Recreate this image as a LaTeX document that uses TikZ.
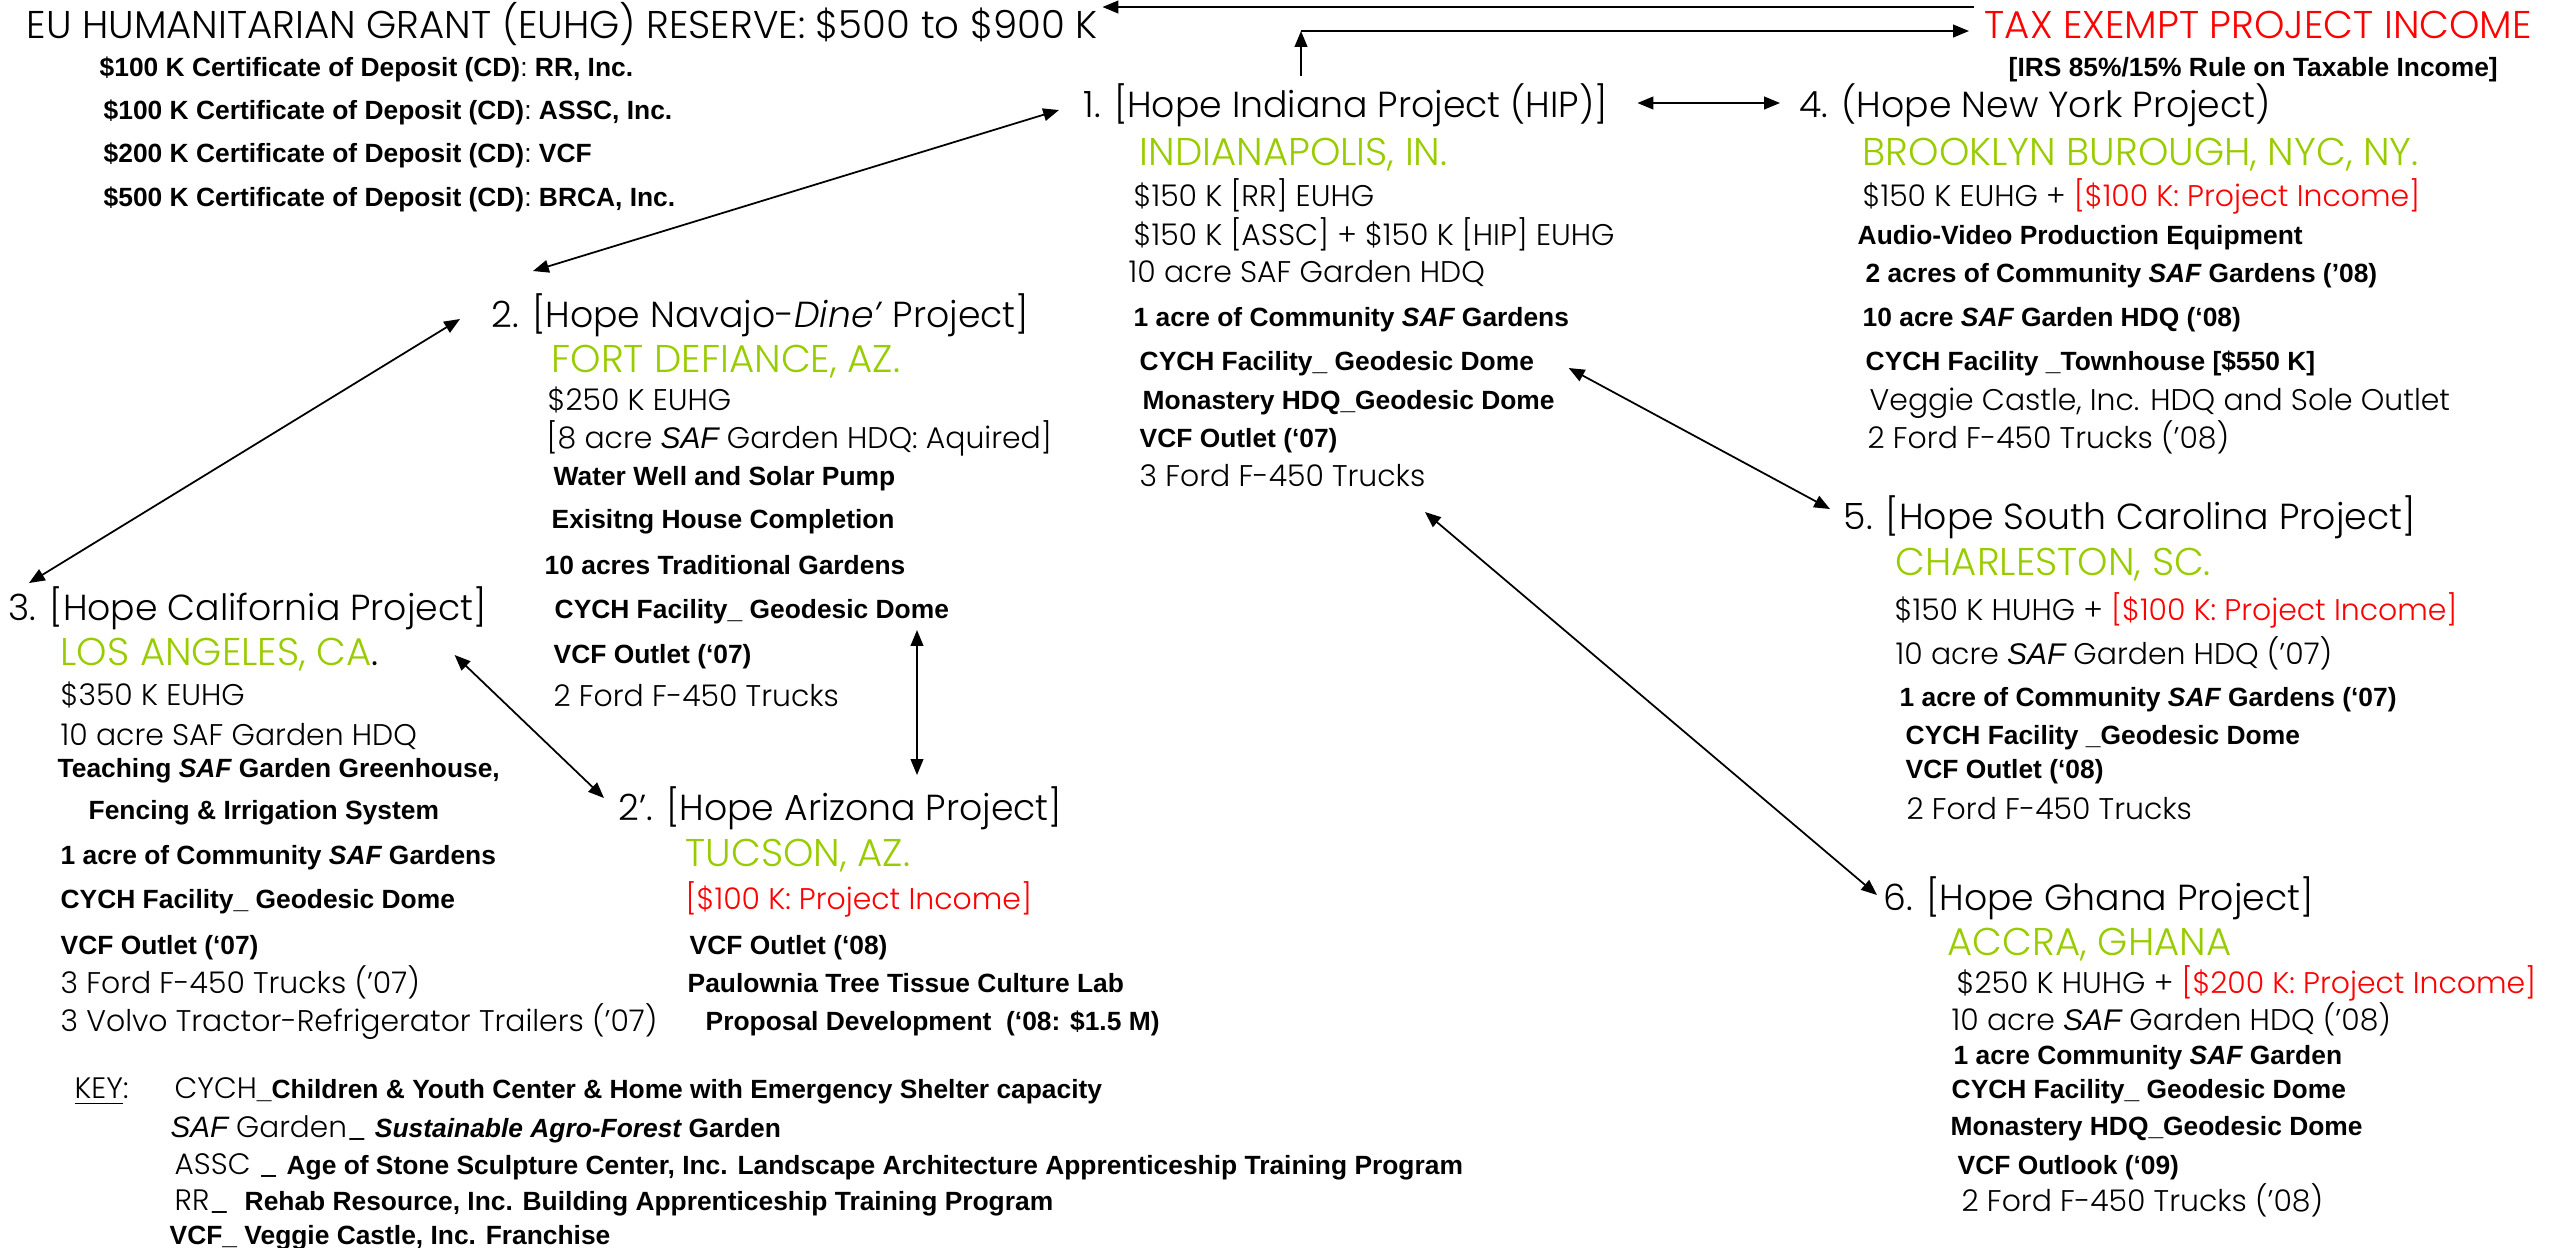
\documentclass[tikz,border=0pt]{standalone}
\usepackage{fontspec}
\IfFontExistsTF{Poppins Light}
  {\setmainfont{Poppins Light}[BoldFont=Poppins, ItalicFont=Poppins Light Italic]}
  {\setmainfont{Poppins}}
\newfontfamily\arialf{Liberation Sans}[Ligatures=TeX]
\usetikzlibrary{arrows.meta,calc}

\definecolor{citygreen}{RGB}{153,204,0}
\definecolor{incred}{RGB}{255,0,0}
\newcommand{\inc}[1]{\textcolor{incred}{#1}}
\newcommand{\saf}{{\arialf\itshape SAF}}
\newcommand{\kb}[1]{{\arialf\bfseries\fontsize{7.5}{9}\selectfont #1}}

\begin{document}
\begin{tikzpicture}[
  x=0.01cm, y=-0.01cm,
  >={Triangle[length=4.5pt, width=3.6pt]},
  % --- text lines ---
  lnbase/.style={anchor=west, inner sep=0pt, text depth=0pt},
  hd/.style={lnbase, font=\fontsize{10.3}{12}\selectfont, text height=7.2pt},
  caps/.style={lnbase, font=\fontsize{11}{13}\selectfont, text height=7.7pt},
  city/.style={caps, text=citygreen},
  reg/.style={lnbase, font=\fontsize{8.5}{10}\selectfont, text height=6pt},
  bld/.style={lnbase, font=\arialf\bfseries\fontsize{7.5}{9}\selectfont, text height=5.4pt},
  keyln/.style={lnbase, font=\fontsize{8.4}{10}\selectfont, text height=5.9pt},
  % --- arrows ---
  arr/.style={->, line width=0.5pt},
  biarr/.style={<->, line width=0.5pt},
]
\useasboundingbox (0,0) rectangle (2575,1247);

% ===================== RESERVE / INCOME =====================

\node[caps] (euhg) at (26,25) {EU HUMANITARIAN GRANT (EUHG) RESERVE: \$500 to \$900 K};
\node[bld] (cd1) at (99,67) {\$100 K Certificate of Deposit (CD)\textmd{:} RR, Inc.};
\node[bld] (cd2) at (103,110) {\$100 K Certificate of Deposit (CD)\textmd{:} ASSC, Inc.};
\node[bld] (cd3) at (103,153) {\$200 K Certificate of Deposit (CD)\textmd{:} VCF};
\node[bld] (cd4) at (103,197) {\$500 K Certificate of Deposit (CD)\textmd{:} BRCA, Inc.};

\node[caps, text=incred] (tax) at (1984,25) {TAX EXEMPT PROJECT INCOME};
\node[bld] (irs) at (2008,67) {[IRS 85\%/15\% Rule on Taxable Income]};

% ===================== 1. INDIANA =====================

\node[hd] (n1) at (1083,105) {1. [Hope Indiana Project (HIP)]};
\node[city] (n1c) at (1139,152) {INDIANAPOLIS, IN.};
\node[reg] (n1a) at (1133,196) {\$150 K [RR] EUHG};
\node[reg] (n1b) at (1133,235) {\$150 K [ASSC] + \$150 K [HIP] EUHG};
\node[reg] (n1d) at (1128,272) {10 acre SAF Garden HDQ};
\node[bld] (n1e) at (1133,317) {1 acre of Community \saf{} Gardens};
\node[bld] (n1f) at (1139,361) {CYCH Facility\_ Geodesic Dome};
\node[bld] (n1g) at (1142,400) {Monastery HDQ\_Geodesic Dome};
\node[bld] (n1h) at (1139,438) {VCF Outlet (`07)};
\node[reg] (n1i) at (1139,476) {3 Ford F-450 Trucks};

% ===================== 4. NEW YORK =====================

\node[hd] (n4) at (1799,105) {4. (Hope New York Project)};
\node[city] (n4c) at (1862,152) {BROOKLYN BUROUGH, NYC, NY.};
\node[reg] (n4a) at (1862,196) {\$150 K EUHG + \inc{[\$100 K: Project Income]}};
\node[bld] (n4b) at (1857,235) {Audio-Video Production Equipment};
\node[bld] (n4d) at (1865,273) {2 acres of Community \saf{} Gardens ('08)};
\node[bld] (n4e) at (1862,317) {10 acre \saf{} Garden HDQ (`08)};
\node[bld] (n4f) at (1865,361) {CYCH Facility \_Townhouse [\$550 K]};
\node[reg] (n4g) at (1869,400) {Veggie Castle, Inc. HDQ and Sole Outlet};
\node[reg] (n4h) at (1867,438) {2 Ford F-450 Trucks ('08)};

% ===================== 2. NAVAJO =====================

\node[hd] (n2) at (491,315) {2. [Hope Navajo-\textit{Dine'} Project]};
\node[city] (n2c) at (551,359) {FORT DEFIANCE, AZ.};
\node[reg] (n2a) at (547,400) {\$250 K EUHG};
\node[reg] (n2b) at (546,438) {[8 acre \saf{} Garden HDQ: Aquired]};
\node[bld] (n2d) at (553,476) {Water Well and Solar Pump};
\node[bld] (n2e) at (551,519) {Exisitng House Completion};
\node[bld] (n2f) at (544,565) {10 acres Traditional Gardens};
\node[bld] (n2g) at (554,609) {CYCH Facility\_ Geodesic Dome};
\node[bld] (n2h) at (553,654) {VCF Outlet (`07)};
\node[reg] (n2i) at (553,696) {2 Ford F-450 Trucks};

% ===================== 3. CALIFORNIA =====================

\node[hd] (n3) at (8,608) {3. [Hope California Project]};
\node[city] (n3c) at (60,652) {LOS ANGELES, CA\textcolor{black}{.}};
\node[reg] (n3a) at (60,695) {\$350 K EUHG};
\node[reg] (n3b) at (60,735) {10 acre SAF Garden HDQ};
\node[bld] (n3d) at (57,768) {Teaching \saf{} Garden Greenhouse,};
\node[bld] (n3e) at (88,810) {Fencing \& Irrigation System};
\node[bld] (n3f) at (60,855) {1 acre of Community \saf{} Gardens};
\node[bld] (n3g) at (60,899) {CYCH Facility\_ Geodesic Dome};
\node[bld] (n3h) at (60,945) {VCF Outlet (`07)};
\node[reg] (n3i) at (60,983) {3 Ford F-450 Trucks ('07)};
\node[reg] (n3j) at (60,1021) {3 Volvo Tractor-Refrigerator Trailers ('07)};

% ===================== 2'. ARIZONA =====================

\node[hd] (n2p) at (618,808) {2'. [Hope Arizona Project]};
\node[city] (n2pc) at (685,853) {TUCSON, AZ.};
\node[reg, text=incred] (n2pa) at (685,899) {[\$100 K: Project Income]};
\node[bld] (n2pb) at (689,945) {VCF Outlet (`08)};
\node[bld] (n2pd) at (687,983) {Paulownia Tree Tissue Culture Lab};
\node[bld] (n2pe) at (705,1021) {Proposal Development~ (`08: \$1.5 M)};

% ===================== 5. SOUTH CAROLINA =====================

\node[hd] (n5) at (1843,517) {5. [Hope South Carolina Project]};
\node[city] (n5c) at (1895,562) {CHARLESTON, SC.};
\node[reg] (n5a) at (1894,610) {\$150 K HUHG + \inc{[\$100 K: Project Income]}};
\node[reg] (n5b) at (1895,654) {10 acre \saf{} Garden HDQ ('07)};
\node[bld] (n5d) at (1899,697) {1 acre of Community \saf{} Gardens (`07)};
\node[bld] (n5e) at (1905,735) {CYCH Facility \_Geodesic Dome};
\node[bld] (n5f) at (1905,769) {VCF Outlet (`08)};
\node[reg] (n5g) at (1906,809) {2 Ford F-450 Trucks};

% ===================== 6. GHANA =====================

\node[hd] (n6) at (1883,898) {6. [Hope Ghana Project]};
\node[city] (n6c) at (1947,942) {ACCRA, GHANA};
\node[reg] (n6a) at (1956,983) {\$250 K HUHG + \inc{[\$200 K: Project Income]}};
\node[reg] (n6b) at (1951,1020) {10 acre \saf{} Garden HDQ ('08)};
\node[bld] (n6d) at (1953,1055) {1 acre Community \saf{} Garden};
\node[bld] (n6e) at (1951,1089) {CYCH Facility\_ Geodesic Dome};
\node[bld] (n6f) at (1950,1126) {Monastery HDQ\_Geodesic Dome};
\node[bld] (n6g) at (1957,1165) {VCF Outlook (`09)};
\node[reg] (n6h) at (1961,1201) {2 Ford F-450 Trucks ('08)};

% ===================== KEY =====================

\node[keyln] (key) at (74,1088) {\underline{KEY}:};
\node[keyln] (k1) at (174,1088) {CYCH\kb{\_Children \& Youth Center \& Home with Emergency Shelter capacity}};
\node[keyln] (k2) at (170,1127) {\saf{} Garden\_ \kb{\itshape Sustainable Agro-Forest}\kb{ Garden}};
\node[keyln] (k3) at (174,1164) {ASSC \_ \kb{Age of Stone Sculpture Center, Inc. Landscape Architecture Apprenticeship Training Program}};
\node[keyln] (k4) at (174,1200) {RR\_ \kb{ Rehab Resource, Inc. Building Apprenticeship Training Program}};
\node[keyln] (k5) at (169,1234) {\kb{VCF\_ Veggie Castle, Inc. Franchise}};

% ===================== ARROWS =====================

% income flows
\draw[arr] ($(tax.west)+(-10,-18)$) -- ($(euhg.east)+(4,-18)$);
\coordinate (hipup) at ($(n1.west)+(218,-74)$);
\draw[arr] ($(n1.west)+(218,-29)$) -- (hipup);
\draw[arr] (hipup) -- ($(hipup -| tax.west)+(-15,0)$);

% project links
\draw[biarr] ($(n1.east)+(29,-2)$) -- ($(n4.west)+(-19,-2)$);
\draw[biarr] ($(n1.west)+(-24,5)$) -- ($(n2.west)+(42,-44)$);
\draw[biarr] ($(n2.west)+(-31,4)$) -- ($(n3.west)+(21,-25)$);
\draw[biarr] ($(n3c.east)+(75,3)$) -- ($(n2p.west)+(-14,-10)$);
\draw[biarr] ($(n2g.west)+(363,21)$) -- ($(n2p.west)+(299,-33)$);
\draw[biarr] ($(n1f.east)+(34,7)$) -- ($(n5.west)+(-13,-8)$);
\draw[biarr] ($(n1i.west)+(286,36)$) -- ($(n6.west)+(-6,-3)$);

\end{tikzpicture}
\end{document}
